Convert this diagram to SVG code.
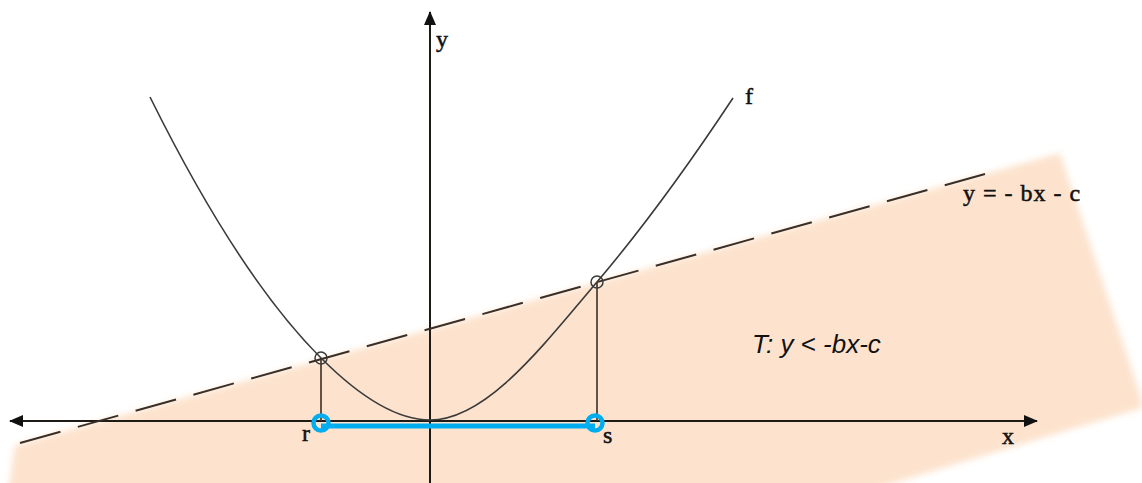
<svg xmlns="http://www.w3.org/2000/svg" width="1142" height="483" viewBox="0 0 1142 483">
<defs>
<filter id="soft" x="-5%" y="-5%" width="110%" height="110%"><feGaussianBlur stdDeviation="3"/></filter>
<marker id="ahx" viewBox="0 0 14 12" refX="13" refY="6" markerWidth="14" markerHeight="12" markerUnits="userSpaceOnUse" orient="auto"><path d="M0,0 L14,6 L0,12 z" fill="#111"/></marker>
<style>
.ax{stroke:#1e1a16;stroke-width:2;fill:none}
.cv{stroke:#3a3a3a;stroke-width:1.6;fill:none}
.vl{stroke:#3a2f26;stroke-width:1.6}
.dash{stroke:#3a2f26;stroke-width:2;stroke-dasharray:42 18;fill:none}
.pt{stroke:#3a3a3a;stroke-width:1.5;fill:none}
.bp{stroke:#00AEEF;stroke-width:4.5;fill:none}
.ser{font-family:"Liberation Serif","Times New Roman",serif;fill:#111;stroke:#111;stroke-width:0.5;font-size:24px}
.cal{font-family:"Liberation Sans",Arial,sans-serif;font-style:italic;fill:#111}
</style>
</defs>
<g id="region">
<polygon points="15,445 1060,153 1142,400 1142,408 864,492 8,492" fill="#FDE3CE" filter="url(#soft)"/>
</g>
<g id="connectors">
<line class="ax" x1="430" y1="483" x2="430" y2="12" marker-end="url(#ahx)"/>
<line class="ax" x1="430" y1="421" x2="10" y2="421" marker-end="url(#ahx)"/>
<line class="ax" x1="430" y1="421" x2="1037" y2="421" marker-end="url(#ahx)"/>
<line class="dash" x1="20" y1="443" x2="985" y2="174"/>
<path class="cv" d="M150,97 C207,212 264,301 321,358 C357,394 394,420 430,420 C486,420 541,348 597,282 C642,229 688,166 733,98"/>
<line class="vl" x1="321" y1="358" x2="321" y2="421"/>
<line class="vl" x1="597" y1="282" x2="597" y2="421"/>
<line x1="321" y1="426" x2="595" y2="426" stroke="#00AEEF" stroke-width="5"/>
</g>
<g id="point-left"><circle class="pt" cx="321" cy="358" r="6"/></g>
<g id="point-right"><circle class="pt" cx="597" cy="282" r="6"/></g>
<g id="point-r"><circle class="bp" cx="321" cy="423" r="7.5"/></g>
<g id="point-s"><circle class="bp" cx="595" cy="423" r="7.5"/></g>
<g id="labels">
<text class="ser" x="436" y="47">y</text>
<text class="ser" x="745" y="104">f</text>
<text class="ser" x="963" y="201" letter-spacing="1">y = - bx - c</text>
<text class="ser" x="1002" y="444">x</text>
<text class="ser" x="302" y="441">r</text>
<text class="ser" x="603" y="443">s</text>
<text class="cal" x="752" y="353" font-size="26">T: y &lt; -bx-c</text>
</g>
</svg>
